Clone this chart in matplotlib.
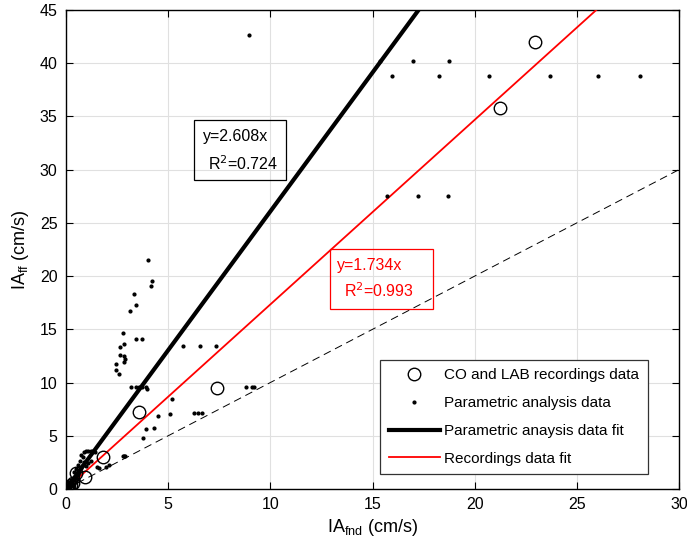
import matplotlib
matplotlib.use("Agg")
import matplotlib.pyplot as plt
import numpy as np
from matplotlib.patches import Rectangle

plt.rcParams['font.family'] = ['Liberation Sans', 'DejaVu Sans']

# CO and LAB recordings data (circles)
rec_x = [0.05, 0.12, 0.16, 0.25, 0.35, 0.49, 0.94, 1.79, 3.55, 7.39, 21.25, 22.94]
rec_y = [0.08, 0.20, 0.22, 0.35, 0.55, 1.47, 1.10, 2.98, 7.24, 9.49, 35.8, 41.98]

# Parametric analysis data (dots)
par_x = [0.05, 0.1, 0.15, 0.2, 0.25, 0.3, 0.35, 0.4, 0.45, 0.5, 0.55, 0.6, 0.65,
         0.7, 0.75, 0.8, 0.85, 0.9, 1.0, 1.1, 1.2, 0.7, 0.6, 0.9, 1.0, 1.1, 1.2,
         1.3, 1.4, 0.75, 0.85, 1.5, 1.6, 1.95, 2.1, 2.8, 2.85, 2.9, 0.3, 0.2,
         0.4, 0.5, 0.6, 0.5, 0.4,
         3.79, 3.92, 4.33, 4.51, 5.08, 5.18, 6.28, 6.48, 6.66,
         3.19, 3.44, 3.55, 3.73, 3.92, 3.97, 8.82, 9.12, 9.20,
         5.75, 6.56, 7.36,
         2.46, 2.46, 2.57, 2.62, 2.65, 2.77, 2.82, 2.85, 2.85, 2.88, 3.42, 3.71,
         3.11, 3.32, 3.44, 4.02, 4.14, 4.20,
         8.94,
         15.35, 16.98, 18.73,
         15.94, 18.26, 20.70, 23.71, 26.02, 28.10,
         15.70, 17.24, 18.68]
par_y = [0.1, 0.2, 0.3, 0.4, 0.5, 0.6, 0.8, 0.9, 1.0, 1.2, 1.3, 1.5, 1.7,
         1.9, 2.0, 2.2, 2.3, 2.5, 2.2, 2.4, 2.6, 2.6, 2.3, 3.5, 3.6, 3.6, 3.6,
         3.6, 3.5, 3.2, 3.0, 2.1, 2.0, 2.1, 2.25, 3.1, 3.1, 3.1, 0.3, 0.15,
         0.5, 0.7, 0.9, 1.9, 1.6,
         4.79, 5.61, 5.70, 6.89, 7.05, 8.49, 7.17, 7.17, 7.17,
         9.62, 9.62, 9.62, 9.62, 9.62, 9.40, 9.62, 9.62, 9.62,
         13.47, 13.47, 13.47,
         11.78, 11.15, 10.78, 12.59, 13.37, 14.63, 12.50, 13.60, 11.94, 12.22, 14.13, 14.07,
         16.73, 18.30, 17.29, 21.52, 19.11, 19.52,
         42.67,
         40.25, 40.25, 40.25,
         38.8, 38.8, 38.8, 38.8, 38.8, 38.8,
         27.5, 27.5, 27.5]

slope_par = 2.608
r2_par = 0.724
slope_rec = 1.734
r2_rec = 0.993

fig = plt.figure(figsize=(6.87, 5.53), dpi=100)
ax = fig.add_axes([66/687, 64/553, 613/687, 479/553])

xx = np.array([0, 30])
ax.plot(xx, xx, color='black', lw=0.7, dashes=(8, 5), zorder=2)
ax.plot(rec_x, rec_y, 'o', mfc='none', mec='black', ms=9, mew=1.0,
        label='CO and LAB recordings data', zorder=4)
ax.plot(par_x, par_y, '.', color='black', ms=4, label='Parametric analysis data', zorder=4)
ax.plot(xx, slope_par * xx, color='black', lw=3, label='Parametric anaysis data fit', zorder=3)
ax.plot(xx, slope_rec * xx, color='red', lw=1.3, label='Recordings data fit', zorder=3)

ax.set_xlim(0, 30)
ax.set_ylim(0, 45)
ax.set_xticks(np.arange(0, 31, 5))
ax.set_yticks(np.arange(0, 46, 5))
ax.grid(True, color='#e0e0e0', lw=0.8)
ax.set_axisbelow(True)
ax.tick_params(direction='in', labelsize=11.5, length=5, top=True, right=True, pad=6)
for s in ax.spines.values():
    s.set_linewidth(1.0)

ax.set_xlabel('IA$_{\\mathregular{fnd}}$ (cm/s)', fontsize=13, labelpad=3)
ax.set_ylabel('IA$_{\\mathregular{ff}}$ (cm/s)', fontsize=13, labelpad=6)

# Text boxes
ax.add_patch(Rectangle((6.25, 29.0), 4.5, 5.7, fill=False, ec='black', lw=0.9, zorder=5))
ax.text(6.7, 33.1, 'y=%.3fx' % slope_par, fontsize=11.5, va='center', ha='left', zorder=6)
ax.text(6.95, 30.6, 'R$^2$=%.3f' % r2_par, fontsize=11.5, va='center', ha='left', zorder=6)

ax.add_patch(Rectangle((12.9, 16.9), 5.08, 5.6, fill=False, ec='red', lw=0.9, zorder=5))
ax.text(13.25, 21.0, 'y=%.3fx' % slope_rec, fontsize=11.5, va='center', ha='left', color='red', zorder=6)
ax.text(13.6, 18.6, 'R$^2$=%.3f' % r2_rec, fontsize=11.5, va='center', ha='left', color='red', zorder=6)

leg = ax.legend(loc='lower right', bbox_to_anchor=(0.949, 0.031), fontsize=11,
                fancybox=False, edgecolor='#333333', framealpha=1,
                handlelength=3.35, handletextpad=0.3, labelspacing=0.9,
                borderpad=0.55, borderaxespad=0)
leg.get_frame().set_linewidth(0.9)

fig.savefig('out.png', dpi=100)
